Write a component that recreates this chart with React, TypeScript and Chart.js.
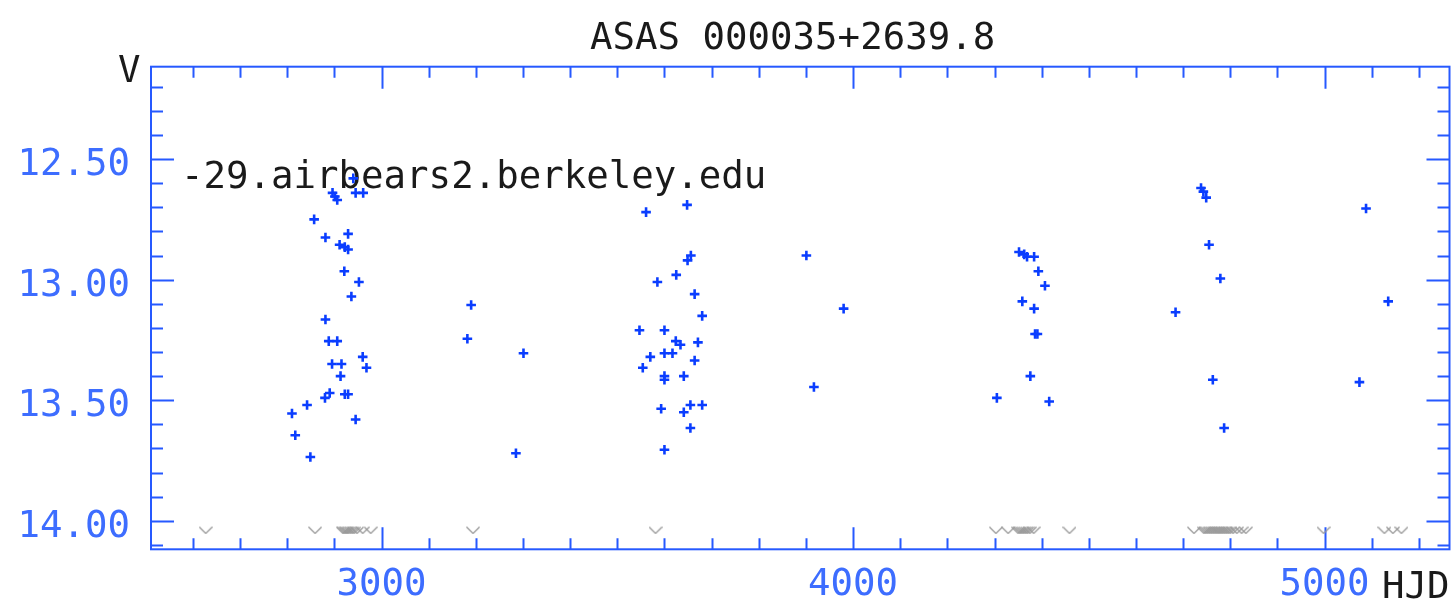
import React, { useEffect, useRef } from 'react';
import { Chart, registerables } from 'chart.js';

Chart.register(...registerables);

// ---- text ----
const TITLE = 'ASAS 000035+2639.8';
const HOST_TEXT = '-29.airbears2.berkeley.edu';
const X_LABEL = 'HJD';
const Y_LABEL = 'V';

// ---- tick labels ----
const X_TICKS = [3000, 4000, 5000];
const Y_TICKS = [12.5, 13.0, 13.5, 14.0];

// ---- detections: HJD (-2450000) and V magnitude ----
const HJD = [
  2940, 2896, 2901, 2906, 2945, 2961, 2857, 2881, 2929, 2911, 2922, 2929, 2921, 2952, 2936, 2881,
  2888, 2906, 2960, 2895, 2915, 2968, 2913, 2890, 2880, 2922, 2929, 2842, 2810, 2945, 2817, 2849,
  3190, 3182, 3301, 3285,
  3561, 3648, 3656, 3649, 3625, 3585, 3664, 3680, 3547, 3600, 3624, 3634, 3671, 3600, 3617, 3570,
  3664, 3554, 3600, 3600, 3641, 3593, 3655, 3680, 3641, 3655, 3600,
  3901, 3980, 3917,
  4352, 4363, 4369, 4384, 4393, 4407, 4359, 4384, 4386, 4391, 4376, 4305, 4416,
  4738, 4743, 4749, 4755, 4779, 4684, 4763, 4787,
  5088, 5135, 5074,
];
const MAG = [
  12.58, 12.64, 12.655, 12.67, 12.64, 12.64, 12.75, 12.825, 12.81, 12.855, 12.865, 12.875, 12.965, 13.01, 13.07, 13.165,
  13.255, 13.255, 13.32, 13.35, 13.35, 13.365, 13.4, 13.47, 13.49, 13.475, 13.475, 13.52, 13.555, 13.58, 13.645, 13.735,
  13.105, 13.245, 13.305, 13.72,
  12.72, 12.69, 12.9, 12.92, 12.98, 13.01, 13.06, 13.15, 13.21, 13.21, 13.255, 13.27, 13.26, 13.305, 13.305, 13.32,
  13.335, 13.365, 13.4, 13.415, 13.4, 13.535, 13.52, 13.52, 13.55, 13.615, 13.705,
  12.9, 13.12, 13.445,
  12.885, 12.895, 12.905, 12.905, 12.965, 13.025, 13.09, 13.12, 13.225, 13.225, 13.4, 13.49, 13.505,
  12.62, 12.635, 12.66, 12.855, 12.995, 13.135, 13.415, 13.615,
  12.705, 13.09, 13.425,
];

// ---- non-detections (upper limits), drawn at the bottom ----
const LIMIT_HJD = [
  2627, 2859,
  2918, 2921, 2924, 2927, 2930, 2934, 2938, 2942, 2948, 2960, 2977,
  3194, 3581,
  4303, 4329, 4350, 4354, 4358, 4362, 4366, 4370, 4375, 4383,
  4459,
  4723, 4744, 4748, 4752, 4756, 4760, 4764, 4768, 4772, 4776, 4780, 4784, 4788, 4792, 4796, 4800, 4806, 4814, 4824, 4833,
  4998, 5127, 5145, 5163,
];
const LIMIT_MAG = 14.039;

const X_MIN = 2511;
const X_MAX = 5265;
const Y_MIN = 12.117;
const Y_MAX = 14.118;

const FONT = "'DejaVu Sans Mono', monospace";
const FONT_SIZE = 37.4;
const AXIS_BLUE = '#2659ff';
const LABEL_BLUE = '#3d6dff';
const POINT_BLUE = '#0a3dff';
const TEXT_BLACK = '#1a1a1a';
const LIMIT_GRAY = '#999999';

function makeVMarker(): HTMLCanvasElement {
  const c = document.createElement('canvas');
  c.width = 14;
  c.height = 8;
  const g = c.getContext('2d')!;
  g.strokeStyle = LIMIT_GRAY;
  g.lineWidth = 1.3;
  g.beginPath();
  g.moveTo(0.5, 0.8);
  g.lineTo(7, 7.2);
  g.lineTo(13.5, 0.8);
  g.stroke();
  return c;
}

const framePlugin = {
  id: 'asasFrame',
  beforeDatasetsDraw(chart: any) {
    const { ctx, chartArea: ca, scales } = chart;
    const xs = scales.x;
    const ys = scales.y;
    ctx.save();
    ctx.strokeStyle = AXIS_BLUE;
    ctx.lineWidth = 2;
    ctx.strokeRect(ca.left, ca.top, ca.right - ca.left, ca.bottom - ca.top);

    // x ticks every 100 days, major every 1000
    ctx.beginPath();
    for (let v = Math.ceil(X_MIN / 100) * 100; v <= X_MAX; v += 100) {
      const px = Math.round(xs.getPixelForValue(v)) + 0.5;
      const len = v % 1000 === 0 ? 22 : 11;
      ctx.moveTo(px, ca.bottom);
      ctx.lineTo(px, ca.bottom - len);
      ctx.moveTo(px, ca.top);
      ctx.lineTo(px, ca.top + len);
    }
    // y ticks every 0.1 mag, major every 0.5
    for (let k = Math.ceil(Y_MIN * 10); k <= Math.floor(Y_MAX * 10); k++) {
      const py = Math.round(ys.getPixelForValue(k / 10)) + 0.5;
      const len = k % 5 === 0 ? 23 : 12;
      ctx.moveTo(ca.left, py);
      ctx.lineTo(ca.left + len, py);
      ctx.moveTo(ca.right, py);
      ctx.lineTo(ca.right - len, py);
    }
    ctx.stroke();

    ctx.fillStyle = TEXT_BLACK;
    ctx.font = `${FONT_SIZE}px ${FONT}`;
    ctx.textBaseline = 'alphabetic';
    ctx.textAlign = 'left';
    ctx.fillText(TITLE, 590, 49);
    ctx.fillText(HOST_TEXT, ca.left + 30, ca.top + 121);
    ctx.fillText(Y_LABEL, ca.left - 33, ca.top + 15);
    ctx.fillText(X_LABEL, 1382, 598);
    ctx.restore();
  },
};

export default function App() {
  const ref = useRef<HTMLCanvasElement | null>(null);

  useEffect(() => {
    const canvas = ref.current;
    if (!canvas) return;
    const vMarker = makeVMarker();
    const tickFont = { family: FONT, size: FONT_SIZE };
    const chart = new Chart(canvas, {
      type: 'scatter',
      data: {
        datasets: [
          {
            label: 'V',
            data: HJD.map((x, i) => ({ x, y: MAG[i] })),
            pointStyle: 'cross',
            pointRadius: 4.8,
            pointBorderWidth: 2.6,
            borderColor: POINT_BLUE,
            backgroundColor: POINT_BLUE,
          },
          {
            label: 'limit',
            data: LIMIT_HJD.map((x) => ({ x, y: LIMIT_MAG })),
            pointStyle: vMarker as any,
            pointRadius: 7,
            borderColor: LIMIT_GRAY,
            backgroundColor: LIMIT_GRAY,
          },
        ],
      },
      options: {
        responsive: false,
        animation: false,
        devicePixelRatio: 1,
        events: [],
        layout: { autoPadding: false, padding: { top: 66.7, right: 1.5, bottom: 0, left: 0 } },
        plugins: {
          legend: { display: false },
          tooltip: { enabled: false },
          title: { display: false },
        },
        scales: {
          x: {
            type: 'linear',
            position: 'bottom',
            min: X_MIN,
            max: X_MAX,
            grid: { display: false, drawTicks: false },
            border: { display: false },
            afterBuildTicks: (s: any) => {
              s.ticks = X_TICKS.map((v) => ({ value: v }));
            },
            afterFit: (s: any) => {
              s.height = 53.7;
            },
            ticks: {
              font: tickFont,
              color: LABEL_BLUE,
              padding: 13.3,
              maxRotation: 0,
              autoSkip: false,
              callback: (v: any) => String(v),
            },
          },
          y: {
            type: 'linear',
            position: 'left',
            min: Y_MIN,
            max: Y_MAX,
            reverse: true,
            grid: { display: false, drawTicks: false },
            border: { display: false },
            afterBuildTicks: (s: any) => {
              s.ticks = Y_TICKS.map((v) => ({ value: v }));
            },
            afterFit: (s: any) => {
              s.width = 151;
            },
            ticks: {
              font: tickFont,
              color: LABEL_BLUE,
              padding: 21,
              labelOffset: 6.5,
              autoSkip: false,
              callback: (v: any) => Number(v).toFixed(2),
            },
          },
        },
      },
      plugins: [framePlugin],
    } as any);
    return () => chart.destroy();
  }, []);

  return (
    <div style={{ position: 'fixed', left: 0, top: 0, width: 1451, height: 603, background: '#ffffff' }}>
      <canvas ref={ref} width={1451} height={603} style={{ display: 'block', width: 1451, height: 603 }} />
    </div>
  );
}
